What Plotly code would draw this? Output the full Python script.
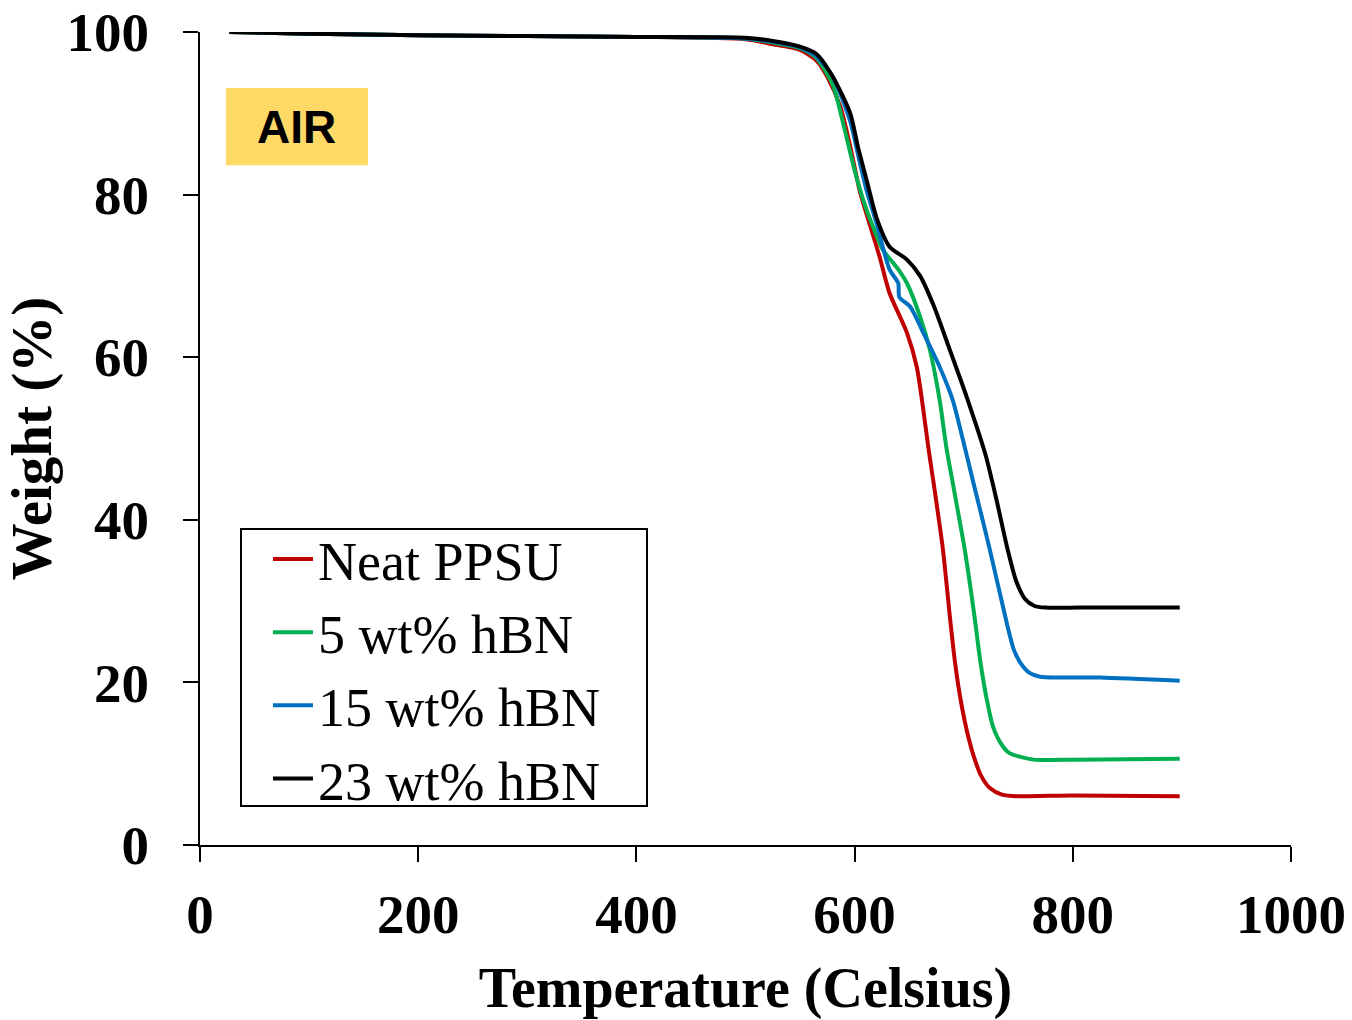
import plotly.graph_objects as go

# Neat PPSU
t_neat = [27, 100, 200, 300, 400, 500, 525, 550, 565, 575, 587, 596, 605, 614, 623, 632, 648, 657, 663, 668, 673, 681, 687, 692, 697, 703, 709, 716, 724, 735, 750, 800, 898]
w_neat = [100, 99.8, 99.6, 99.5, 99.4, 99.1, 98.5, 97.8, 96.5, 94.5, 90.8, 85.9, 80.3, 76.3, 72.3, 67.9, 63.0, 58.8, 53.5, 48.5, 44.0, 36.3, 28.5, 22.5, 18.0, 14.0, 11.0, 8.5, 7.0, 6.2, 6.0, 6.1, 6.0]

# 5 wt% hBN
t_5 = [27, 100, 200, 300, 400, 500, 525, 550, 565, 580, 590, 600, 608, 617, 626, 640, 648, 660, 669, 678, 684, 690, 701, 710, 715, 721, 727, 735, 742, 764, 800, 898]
w_5 = [100, 99.8, 99.6, 99.5, 99.4, 99.2, 98.7, 98.0, 96.8, 93.5, 88.5, 83.0, 79.3, 76.0, 73.2, 70.8, 69.1, 65.0, 60.9, 54.7, 49.0, 44.5, 36.3, 28.0, 22.8, 18.0, 14.5, 12.3, 11.3, 10.5, 10.5, 10.6]

# 15 wt% hBN
t_15 = [27, 100, 200, 300, 400, 500, 525, 550, 565, 580, 596, 603, 611, 620, 632, 640, 641, 651, 663, 678, 690, 699, 709, 724, 740, 746, 752, 760, 770, 825, 898]
w_15 = [100, 99.8, 99.6, 99.5, 99.4, 99.2, 98.8, 98.1, 97.0, 94.5, 89.0, 85.0, 80.5, 76.5, 70.8, 69.1, 67.4, 66.2, 63.0, 58.8, 54.7, 50.0, 44.5, 36.3, 27.0, 24.0, 22.4, 21.2, 20.7, 20.6, 20.2]

# 23 wt% hBN
t_23 = [27, 100, 200, 300, 400, 500, 525, 550, 565, 580, 596, 603, 611, 620, 632, 648, 660, 672, 687, 703, 720, 730, 740, 748, 756, 765, 775, 807, 898]
w_23 = [100, 99.8, 99.6, 99.5, 99.4, 99.3, 98.9, 98.2, 97.3, 94.5, 90.0, 85.9, 81.8, 77.2, 73.6, 72.0, 70.0, 66.5, 61.0, 55.0, 48.0, 42.5, 36.5, 32.5, 30.3, 29.4, 29.2, 29.2, 29.2]

series_names = ["Neat PPSU", "5 wt% hBN", "15 wt% hBN", "23 wt% hBN"]
series_colors = ["#C00000", "#00B050", "#0070C0", "#000000"]
series_t = [t_neat, t_5, t_15, t_23]
series_w = [w_neat, w_5, w_15, w_23]

x_ticks = [0, 200, 400, 600, 800, 1000]
y_ticks = [0, 20, 40, 60, 80, 100]

fig = go.Figure()
for name, color, t, w in zip(series_names, series_colors, series_t, series_w):
    fig.add_trace(go.Scatter(x=t, y=w, mode="lines", name=name,
                             line=dict(color=color, width=4, shape="spline", smoothing=0.7)))

serif = "Liberation Serif, Times New Roman, serif"
fig.update_layout(
    width=1352, height=1020,
    margin=dict(l=200, r=61, t=32, b=175, autoexpand=False),
    paper_bgcolor="white", plot_bgcolor="white",
    showlegend=True,
    legend=dict(x=0.0623, y=0.403, xanchor="left", yanchor="top",
                borderwidth=0, bgcolor="rgba(0,0,0,0)",
                font=dict(family=serif, size=54, color="black"),
                itemwidth=40, tracegroupgap=0),
)
fig.update_xaxes(range=[0, 1000], tickvals=x_ticks, showgrid=False, zeroline=False,
                 automargin=False,
                 showline=True, linecolor="black", linewidth=2,
                 ticks="outside", ticklen=15, tickwidth=2, tickcolor="black",
                 tickfont=dict(family=serif, size=55, color="black", weight="bold"),
                 ticklabelstandoff=5,
                 title=dict(text="<b>Temperature (Celsius)</b>", standoff=26,
                            font=dict(family=serif, size=56, color="black")))
fig.update_yaxes(range=[0, 100], tickvals=y_ticks, showgrid=False, zeroline=False,
                 automargin=False,
                 showline=True, linecolor="black", linewidth=2,
                 ticks="outside", ticklen=15, tickwidth=2, tickcolor="black",
                 tickfont=dict(family=serif, size=55, color="black", weight="bold"),
                 ticklabelstandoff=23,
                 title=dict(text="<b>Weight (%)</b>", standoff=0,
                            font=dict(family=serif, size=57, color="black")))

# legend frame
fig.add_shape(type="rect", xref="paper", yref="paper",
              x0=(241 - 200) / 1091, x1=(647 - 200) / 1091,
              y0=(845 - 806) / 813, y1=(845 - 529) / 813,
              fillcolor="white", line=dict(width=2, color="black"), layer="below")

# AIR label
fig.add_shape(type="rect", xref="paper", yref="paper",
              x0=0.0238, x1=0.154, y0=0.836, y1=0.931,
              fillcolor="#FFD966", line=dict(width=0), layer="below")
fig.add_annotation(xref="paper", yref="paper", x=0.0889, y=0.883,
                   xanchor="center", yanchor="middle",
                   text="<b>AIR</b>", showarrow=False,
                   font=dict(family="Liberation Sans, Arial, sans-serif", size=46, color="black"))

fig.write_html("out.html")
